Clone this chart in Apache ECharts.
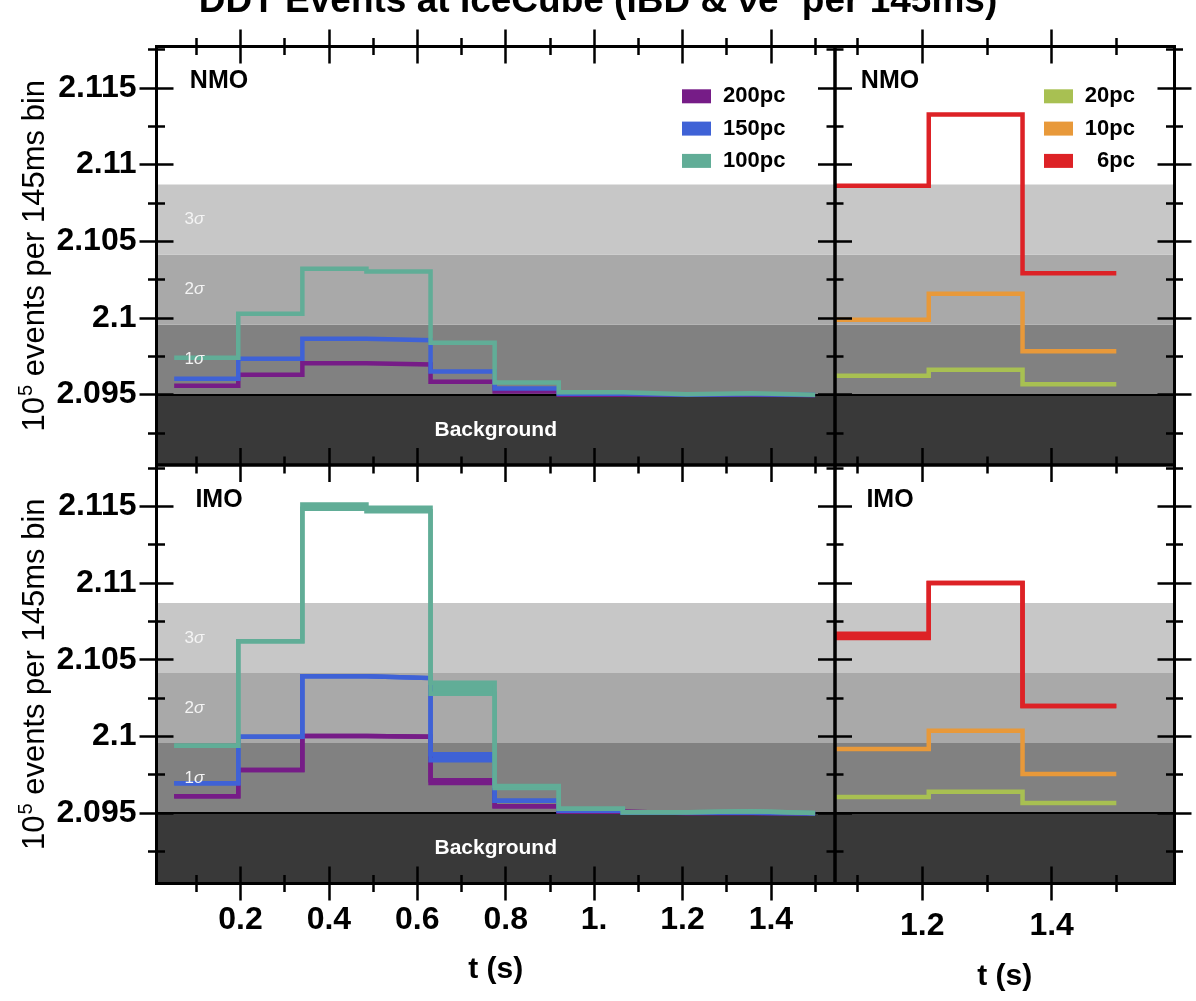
<!DOCTYPE html>
<html><head><meta charset="utf-8">
<script src="https://cdn.jsdelivr.net/npm/echarts@6/dist/echarts.min.js"></script>
<style>html,body{margin:0;padding:0;background:#fff}#c{width:1196px;height:1001px}</style>
</head><body><div id="c"></div>
<script>
// ---------- DATA ----------
const titleText = 'DDT Events at IceCube (IBD & νe⁻ per 145ms)';
const binEdges = [0.05, 0.195, 0.34, 0.485, 0.63, 0.775, 0.92, 1.065, 1.21, 1.355, 1.5];
const nearEdges = [1.065, 1.21, 1.355, 1.5];
const farNames = ['200pc', '150pc', '100pc'];
const nearNames = ['20pc', '10pc', '6pc'];
const panelLabels = ['NMO', 'NMO', 'IMO', 'IMO'];

// NMO, far sources (10^5 events per bin)
const nmo200 = [2.09557, 2.09628, 2.09704, 2.09696, 2.09583, 2.09520, 2.09499, 2.09498, 2.09499, 2.09497];
const nmo150 = [2.09602, 2.09733, 2.09863, 2.09854, 2.09650, 2.09539, 2.09505, 2.09499, 2.09501, 2.09497];
const nmo100 = [2.09739, 2.10026, 2.10320, 2.10302, 2.09837, 2.09578, 2.09515, 2.09502, 2.09508, 2.09498];
// NMO, near sources
const nmo20 = [2.09622, 2.09661, 2.09567];
const nmo10 = [2.09987, 2.10157, 2.09782];
const nmo6  = [2.10861, 2.11326, 2.10291];
// IMO, far sources: lower / upper edge of each band
const imo200Lo = [2.09609, 2.09780, 2.10002, 2.09998, 2.09696, 2.09544, 2.09508, 2.09500, 2.09500, 2.09498];
const imo200Hi = [2.09609, 2.09780, 2.10002, 2.09998, 2.09713, 2.09544, 2.09508, 2.09500, 2.09500, 2.09498];
const imo150Lo = [2.09694, 2.09998, 2.10392, 2.10380, 2.09844, 2.09580, 2.09515, 2.09501, 2.09502, 2.09498];
const imo150Hi = [2.09694, 2.09998, 2.10392, 2.10380, 2.09883, 2.09580, 2.09515, 2.09501, 2.09502, 2.09498];
const imo100Lo = [2.09939, 2.10620, 2.11485, 2.11468, 2.10278, 2.09663, 2.09528, 2.09505, 2.09511, 2.09500];
const imo100Hi = [2.09939, 2.10620, 2.11513, 2.11491, 2.10350, 2.09676, 2.09528, 2.09505, 2.09511, 2.09500];
// IMO, near sources
const imo20 = [2.09604, 2.09639, 2.09565];
const imo10 = [2.09917, 2.10037, 2.09754];
const imo6Lo = [2.10641, 2.11000, 2.10198];
const imo6Hi = [2.10669, 2.11000, 2.10198];

// significance bands
const bandNames = ['Background', '1σ', '2σ', '3σ'];
const bandEdges = [2.0904, 2.095, 2.09957, 2.10413, 2.1087];

// axes
const yRange = [2.0904, 2.1177];
const xRangeFar = [0.01, 1.545];
const xRangeNear = [1.065, 1.59];
const yTickVals = [2.095, 2.1, 2.105, 2.11, 2.115];
const yTickLabels = ['2.095', '2.1', '2.105', '2.11', '2.115'];
const yMinorVals = [2.0925, 2.0975, 2.1025, 2.1075, 2.1125, 2.1175];
const xTickValsFar = [0.2, 0.4, 0.6, 0.8, 1.0, 1.2, 1.4];
const xTickLabelsFar = ['0.2', '0.4', '0.6', '0.8', '1.', '1.2', '1.4'];
const xMinorFar = [0.1, 0.3, 0.5, 0.7, 0.9, 1.1, 1.3, 1.5];
const xTickValsNear = [1.2, 1.4];
const xTickLabelsNear = ['1.2', '1.4'];
const xMinorNear = [1.1, 1.3, 1.5];
const xName = 't (s)';

// ---------- STYLE ----------
const FONT = '"Liberation Sans", Arial, Helvetica, sans-serif';
const colors = {'200pc':'#761c87','150pc':'#3f62d6','100pc':'#61ad97','20pc':'#a8c052','10pc':'#e8993a','6pc':'#dd2226'};
const bandColors = ['#393939', '#818181', '#a9a9a9', '#c7c7c7'];

const gridRects = [
  {left:156.5, top:46.5, width:678.5, height:418.5},
  {left:835,   top:46.5, width:339.5, height:418.5},
  {left:156.5, top:465,  width:678.5, height:418.5},
  {left:835,   top:465,  width:339.5, height:418.5}
];

function labelFrom(vals, labels) {
  return v => { const i = vals.findIndex(t => Math.abs(t - v) < 1e-7); return i < 0 ? '' : labels[i]; };
}

function tickAxis(gi, pos, range, ticks, len, extra) {
  return Object.assign({
    type:'value', gridIndex: gi, position: pos, min: range[0], max: range[1],
    offset: -len / 2, z: 10, silent: true,
    axisLine:{show:false}, splitLine:{show:false}, axisLabel:{show:false},
    axisPointer:{show:false},
    axisTick:{show:true, inside:false, length: len, customValues: ticks, lineStyle:{color:'#000', width:2.5}}
  }, extra || {});
}

const xAxes = [], yAxes = [];
for (let gi = 0; gi < 4; gi++) {
  const far = gi % 2 === 0, bottom = gi >= 2;
  const xr = far ? xRangeFar : xRangeNear;
  const xMaj = far ? xTickValsFar : xTickValsNear;
  const xMin = far ? xMinorFar : xMinorNear;
  const xLab = far ? xTickLabelsFar : xTickLabelsNear;
  const mainX = bottom ? {
    name: xName, nameLocation:'middle', nameGap: far ? 88.5 : 95.5, nameMoveOverlap:false,
    nameTextStyle:{fontSize:30, fontWeight:'bold', color:'#000', fontFamily:FONT},
    axisLabel:{show:true, customValues: xMaj, formatter: labelFrom(xMaj, xLab), margin: far ? 37.5 : 43.5,
      fontSize:32, fontWeight:'bold', color:'#000', fontFamily:FONT}
  } : {};
  xAxes.push(tickAxis(gi, 'bottom', xr, xMaj, 34, mainX));
  xAxes.push(tickAxis(gi, 'bottom', xr, xMin, 17));
  xAxes.push(tickAxis(gi, 'top', xr, xMaj, 34));
  xAxes.push(tickAxis(gi, 'top', xr, xMin, 17));
  const mainY = far ? {
    name: '{a|10}{s|5}{a| events per 145ms bin}', nameLocation:'middle', nameGap: 123, nameRotate: 90, nameMoveOverlap:false,
    nameTextStyle:{color:'#000', fontFamily:FONT, rich:{
      a:{fontSize:31, fontFamily:FONT, color:'#000', lineHeight:34, verticalAlign:'bottom'},
      s:{fontSize:20, fontFamily:FONT, color:'#000', lineHeight:34, verticalAlign:'top', padding:[0,0,0,1]}}},
    axisLabel:{show:true, customValues: yTickVals, formatter: labelFrom(yTickVals, yTickLabels), margin:37,
      fontSize:32, fontWeight:'bold', color:'#000', fontFamily:FONT}
  } : {};
  yAxes.push(tickAxis(gi, 'left', yRange, yTickVals, 34, mainY));
  yAxes.push(tickAxis(gi, 'left', yRange, yMinorVals, 17));
  yAxes.push(tickAxis(gi, 'right', yRange, yTickVals, 34));
  yAxes.push(tickAxis(gi, 'right', yRange, yMinorVals, 17));
}

// points stored as [value, time] so that stacking acts on the value dimension
function stepData(edges, vals) {
  const d = vals.map((v, i) => [v, edges[i]]);
  d.push([vals[vals.length - 1], edges[edges.length - 1]]);
  return d;
}

const series = [];
function bandAreas(withLabels, fill) {
  return bandNames.map((n, i) => [
    {name: n, yAxis: bandEdges[i], itemStyle:{color: fill ? bandColors[i] : 'rgba(0,0,0,0)', opacity:1},
     label: !withLabels ? {show:false} : (i === 0
        ? {show:true, position:'inside', color:'#fff', fontSize:21, fontWeight:'bold', fontFamily:FONT}
        : {show:true, position:'insideLeft', distance: 28, color:'#f4f4f4', fontFamily:FONT,
           formatter: '{n|' + n.charAt(0) + '}{s|σ}',
           rich:{n:{fontSize:17, color:'#f4f4f4', fontFamily:FONT}, s:{fontSize:17, fontStyle:'italic', color:'#f4f4f4', fontFamily:FONT}}})},
    {yAxis: bandEdges[i + 1]}
  ]);
}
function addBands(gi) {
  const far = gi % 2 === 0;
  series.push({
    type:'line', xAxisIndex: gi * 4, yAxisIndex: gi * 4, data: [], silent: true, z: 1, symbol:'none',
    markArea:{silent:true, z: 1, data: bandAreas(false, true)},
    markLine:{silent:true, z: 2, symbol:['none','none'], label:{show:false}, precision: 6,
      lineStyle:{color:'#000', width:2, type:'solid', opacity:1}, data:[{yAxis: bandEdges[1]}]}
  });
  if (far) series.push({
    type:'line', xAxisIndex: gi * 4, yAxisIndex: gi * 4, data: [], silent: true, z: 6, symbol:'none',
    markArea:{silent:true, z: 6, data: bandAreas(true, false)}
  });
}
function addLine(gi, name, edges, lo, hi) {
  const c = colors[name];
  const base = {type:'line', name, xAxisIndex: gi * 4, yAxisIndex: gi * 4, step:'end', symbol:'none',
    encode:{x:1, y:0},
    color: c, itemStyle:{color: c}, lineStyle:{color: c, width: 4.5, cap:'butt', join:'miter'}, z: 3, silent: true,
    stack: 'g' + gi + name};
  series.push(Object.assign({}, base, {data: stepData(edges, lo)}));
  if (hi) series.push(Object.assign({}, base, {data: stepData(edges, hi.map((v, i) => v - lo[i])), areaStyle:{color: c, opacity: 1}}));
}

addBands(0); addLine(0, '200pc', binEdges, nmo200); addLine(0, '150pc', binEdges, nmo150); addLine(0, '100pc', binEdges, nmo100);
addBands(1); addLine(1, '20pc', nearEdges, nmo20); addLine(1, '10pc', nearEdges, nmo10); addLine(1, '6pc', nearEdges, nmo6);
addBands(2); addLine(2, '200pc', binEdges, imo200Lo, imo200Hi); addLine(2, '150pc', binEdges, imo150Lo, imo150Hi); addLine(2, '100pc', binEdges, imo100Lo, imo100Hi);
addBands(3); addLine(3, '20pc', nearEdges, imo20); addLine(3, '10pc', nearEdges, imo10); addLine(3, '6pc', nearEdges, imo6Lo, imo6Hi);

const legendBase = {orient:'vertical', top: 85.3, itemWidth: 29, itemHeight: 14, itemGap: 10.3, padding: 0,
  icon:'rect', selectedMode:false, itemStyle:{borderWidth:0}};
const labelPos = [[219, 81], [890, 81], [219, 500], [890, 500]];

const option = {
  animation:false,
  backgroundColor:'#fff',
  title:{text: titleText, left:'center', top:-22, textStyle:{fontSize:37, fontWeight:'bold', color:'#000', fontFamily:FONT}},
  grid: gridRects.map(r => Object.assign({show:true, borderColor:'#000', borderWidth:3, backgroundColor:'transparent', z:10,
    containLabel:false, outerBoundsMode:'none'}, r)),
  xAxis: xAxes, yAxis: yAxes,
  legend:[
    Object.assign({}, legendBase, {data: farNames, left: 682, formatter: n => '{a|' + n + '}',
      textStyle:{rich:{a:{fontSize:22, fontWeight:'bold', color:'#000', fontFamily:FONT, lineHeight:22, padding:[0,0,0,7]}}}}),
    Object.assign({}, legendBase, {data: nearNames, left: 1044, formatter: n => '{a|' + n + '}',
      textStyle:{rich:{a:{fontSize:22, fontWeight:'bold', color:'#000', fontFamily:FONT, lineHeight:22, width:57, align:'right'}}}})
  ],
  graphic: panelLabels.map((t, i) => ({type:'text', x: labelPos[i][0], y: labelPos[i][1], z: 20, silent: true,
    style:{text: t, fill:'#000', fontSize:25, fontWeight:'bold', fontFamily:FONT, align:'center', verticalAlign:'middle'}})),
  series
};
const chart = echarts.init(document.getElementById('c'), null, {renderer:'canvas'});
chart.setOption(option);
</script></body></html>
